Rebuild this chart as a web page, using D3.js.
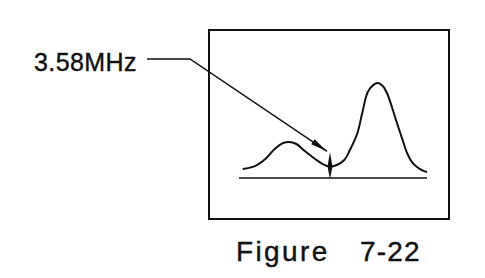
<!DOCTYPE html>
<html lang="en">
<head>
  <meta charset="utf-8">
  <title>Figure 7-22</title>
  <style>
  * { margin:0; padding:0; }
  body { background: #fff; }
  text { font-family: "Liberation Sans", Arial, Helvetica, sans-serif; fill: #111; stroke: #111; stroke-width: 0.4px; }
  </style>
  <script src="https://d3js.org/d3.v7.min.js"></script>
</head>
<body>
  <div id="chart"></div>
  <script type="text/javascript">
  // spectrum trace (arbitrary freq units 0-100, amplitude 0-100)
  var freq = [2, 8.5, 14, 19, 23.5, 26.5, 30.5, 35, 40.5, 44.5, 48.4, 52, 56, 59, 63, 65.5, 68.5, 71.5, 74, 76.5, 78.7, 81.5, 84, 86.7, 89.4, 92, 94.7, 97.3, 100];
  var amp  = [9.5, 12.5, 20, 30.5, 36.8, 38, 35.8, 28.4, 20, 14.7, 12, 13.7, 19, 29.5, 47.4, 68, 90.5, 98, 100, 96.8, 89.5, 73.7, 58, 42, 26.3, 16.8, 11.6, 8.4, 6.3];
  var baseline = [0, 100];
  var markerFreq = 48.4;
  var markerSpan = [-1, 27];
  var markerLabel = "3.58MHz";
  var figLabel = ["Figure", "7-22"];

  var w = 485, h = 278;
  var svg = d3.select("#chart").append("svg")
    .attr("width", w)
    .attr("height", h);

  var x = d3.scaleLinear().domain([0, 100]).range([239, 427]);
  var y = d3.scaleLinear().domain([0, 100]).range([178, 83]);

  // frame
  svg.append("rect")
    .attr("x", 209).attr("y", 30)
    .attr("width", 240).attr("height", 189)
    .attr("fill", "none")
    .attr("stroke", "#111")
    .attr("stroke-width", 2);

  // baseline
  svg.append("line")
    .attr("x1", x(baseline[0])).attr("x2", x(baseline[1]))
    .attr("y1", y(0)).attr("y2", y(0))
    .attr("stroke", "#111")
    .attr("stroke-width", 1.6);

  var pts = freq.map(function(f, i){ return [f, amp[i]]; });
  var line = d3.line()
    .x(function(d){ return x(d[0]); })
    .y(function(d){ return y(d[1]); })
    .curve(d3.curveCatmullRom);

  svg.append("path")
    .datum(pts)
    .attr("d", line)
    .attr("fill", "none")
    .attr("stroke", "#111")
    .attr("stroke-width", 2);

  // 3.58MHz marker (thin spindle)
  var mx = x(markerFreq), mTop = y(markerSpan[1]), mBot = y(markerSpan[0]);
  var mMid = y(12);
  svg.append("path")
    .attr("d", "M" + mx + "," + mTop + " L" + (mx + 2.5) + "," + mMid + " L" + mx + "," + mBot + " L" + (mx - 2.5) + "," + mMid + "Z")
    .attr("fill", "#111");

  // label + leader
  svg.append("text")
    .attr("x", 34).attr("y", 71)
    .attr("font-size", 25)
    .attr("letter-spacing", 0.4)
    .text(markerLabel);

  var tip = [mx - 3, mTop - 1];
  var elbow = [190, 59];
  svg.append("path")
    .attr("d", "M147,59 L" + elbow[0] + "," + elbow[1] + " L" + tip[0] + "," + tip[1])
    .attr("fill", "none")
    .attr("stroke", "#111")
    .attr("stroke-width", 1.5);

  // arrow head
  var ang = Math.atan2(tip[1] - elbow[1], tip[0] - elbow[0]);
  var len = 17, half = 3;
  var bx = tip[0] - len * Math.cos(ang), by = tip[1] - len * Math.sin(ang);
  svg.append("path")
    .attr("d", "M" + tip[0] + "," + tip[1] +
      " L" + (bx - half * Math.sin(ang)) + "," + (by + half * Math.cos(ang)) +
      " L" + (bx + half * Math.sin(ang)) + "," + (by - half * Math.cos(ang)) + "Z")
    .attr("fill", "#111");

  // caption
  svg.append("text")
    .attr("x", 236).attr("y", 261)
    .attr("font-size", 28)
    .attr("letter-spacing", 2.4)
    .text(figLabel[0]);
  svg.append("text")
    .attr("x", 360).attr("y", 261)
    .attr("font-size", 28)
    .attr("letter-spacing", 1.2)
    .text(figLabel[1]);
  </script>
</body>
</html>
